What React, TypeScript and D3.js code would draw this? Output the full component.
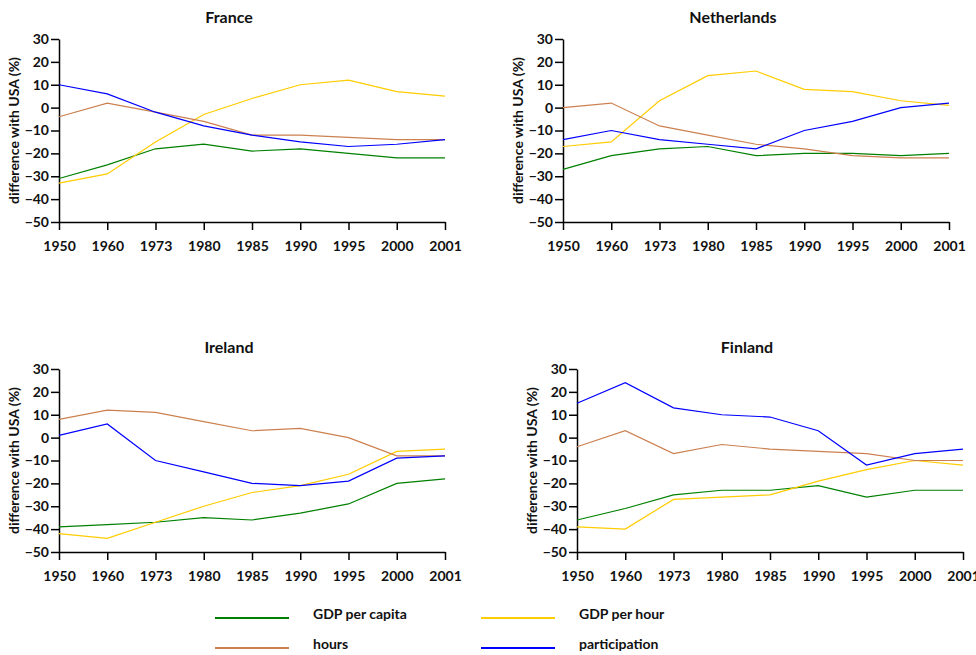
import React, { useEffect, useRef } from "react";
import { select, scalePoint, scaleLinear, axisBottom, axisLeft, line } from "d3";

const years = ["1950", "1960", "1973", "1980", "1985", "1990", "1995", "2000", "2001"];
const yTicks = [30, 20, 10, 0, -10, -20, -30, -40, -50];

const seriesNames = ["GDP per capita", "GDP per hour", "hours", "participation"];
const seriesColors = ["#008000", "#ffcc00", "#cc8050", "#0000ff"];

const franceGdpCapita = [-31, -25, -18, -16, -19, -18, -20, -22, -22];
const franceGdpHour = [-33, -29, -15, -3, 4, 10, 12, 7, 5];
const franceHours = [-4, 2, -2, -6, -12, -12, -13, -14, -14];
const franceParticipation = [10, 6, -2, -8, -12, -15, -17, -16, -14];

const netherlandsGdpCapita = [-27, -21, -18, -17, -21, -20, -20, -21, -20];
const netherlandsGdpHour = [-17, -15, 3, 14, 16, 8, 7, 3, 1];
const netherlandsHours = [0, 2, -8, -12, -16, -18, -21, -22, -22];
const netherlandsParticipation = [-14, -10, -14, -16, -18, -10, -6, 0, 2];

const irelandGdpCapita = [-39, -38, -37, -35, -36, -33, -29, -20, -18];
const irelandGdpHour = [-42, -44, -37, -30, -24, -21, -16, -6, -5];
const irelandHours = [8, 12, 11, 7, 3, 4, 0, -8, -8];
const irelandParticipation = [1, 6, -10, -15, -20, -21, -19, -9, -8];

const finlandGdpCapita = [-36, -31, -25, -23, -23, -21, -26, -23, -23];
const finlandGdpHour = [-39, -40, -27, -26, -25, -19, -14, -10, -12];
const finlandHours = [-4, 3, -7, -3, -5, -6, -7, -10, -10];
const finlandParticipation = [15, 24, 13, 10, 9, 3, -12, -7, -5];

const panels = [
  { title: "France", left: 59, top: 39, series: [franceGdpCapita, franceGdpHour, franceHours, franceParticipation] },
  { title: "Netherlands", left: 563, top: 39, series: [netherlandsGdpCapita, netherlandsGdpHour, netherlandsHours, netherlandsParticipation] },
  { title: "Ireland", left: 59, top: 369, series: [irelandGdpCapita, irelandGdpHour, irelandHours, irelandParticipation] },
  { title: "Finland", left: 577, top: 369, series: [finlandGdpCapita, finlandGdpHour, finlandHours, finlandParticipation] },
];

const plotW = 386;
const plotH = 183;
const font = "Lato, 'Open Sans', sans-serif";

const App = () => {
  const svgRef = useRef(null);

  useEffect(() => {
    const svg = select(svgRef.current);
    svg.selectAll("*").remove();

    const x = scalePoint<string>().domain(years).range([0, plotW]);
    const y = scaleLinear().domain([-50, 30]).range([plotH, 0]);
    const path = line<number>()
      .x((d, i) => x(years[i]) as number)
      .y((d) => y(d));

    panels.forEach((p) => {
      const g = svg.append("g").attr("transform", `translate(${p.left},${p.top})`);

      // title
      g.append("text")
        .attr("x", plotW / 2 - 23)
        .attr("y", -16)
        .attr("text-anchor", "middle")
        .attr("font-size", 16)
        .attr("font-weight", "bold")
        .attr("fill", "#111")
        .text(p.title);

      // y label
      g.append("text")
        .attr("transform", `translate(-40,${plotH / 2}) rotate(-90)`)
        .attr("text-anchor", "middle")
        .attr("font-size", 14)
        .attr("font-weight", "bold")
        .attr("fill", "#111")
        .text("difference with USA (%)");

      const xa = g.append("g")
        .attr("transform", `translate(0,${plotH})`)
        .call(axisBottom(x).tickSize(8).tickSizeOuter(0).tickPadding(11));
      const ya = g.append("g")
        .call(axisLeft(y).tickValues(yTicks).tickSize(8).tickSizeOuter(0).tickPadding(2));

      [xa, ya].forEach((a) => {
        a.selectAll("path, line").attr("stroke", "#000").attr("stroke-width", 1.5);
        a.selectAll("text")
          .attr("font-family", font)
          .attr("font-size", 14)
          .attr("font-weight", "bold")
          .attr("fill", "#111");
      });

      p.series.forEach((vals, i) => {
        g.append("path")
          .datum(vals)
          .attr("d", path)
          .attr("fill", "none")
          .attr("stroke", seriesColors[i])
          .attr("stroke-width", 1.2);
      });
    });

    // legend
    const legendPos = [
      { x: 215, y: 618 },
      { x: 481, y: 618 },
      { x: 215, y: 648 },
      { x: 481, y: 648 },
    ];
    seriesNames.forEach((name, i) => {
      const lp = legendPos[i];
      svg.append("line")
        .attr("x1", lp.x)
        .attr("x2", lp.x + 74)
        .attr("y1", lp.y)
        .attr("y2", lp.y)
        .attr("stroke", seriesColors[i])
        .attr("stroke-width", 2);
      svg.append("text")
        .attr("x", lp.x + 98)
        .attr("y", lp.y + 1)
        .attr("font-size", 14)
        .attr("font-weight", "bold")
        .attr("fill", "#111")
        .text(name);
    });
  }, []);

  return (
    <div style={{ position: "absolute", left: 0, top: 0 }}>
      <svg ref={svgRef} width={976} height={655} style={{ display: "block", fontFamily: font }} />
    </div>
  );
};

export default App;
